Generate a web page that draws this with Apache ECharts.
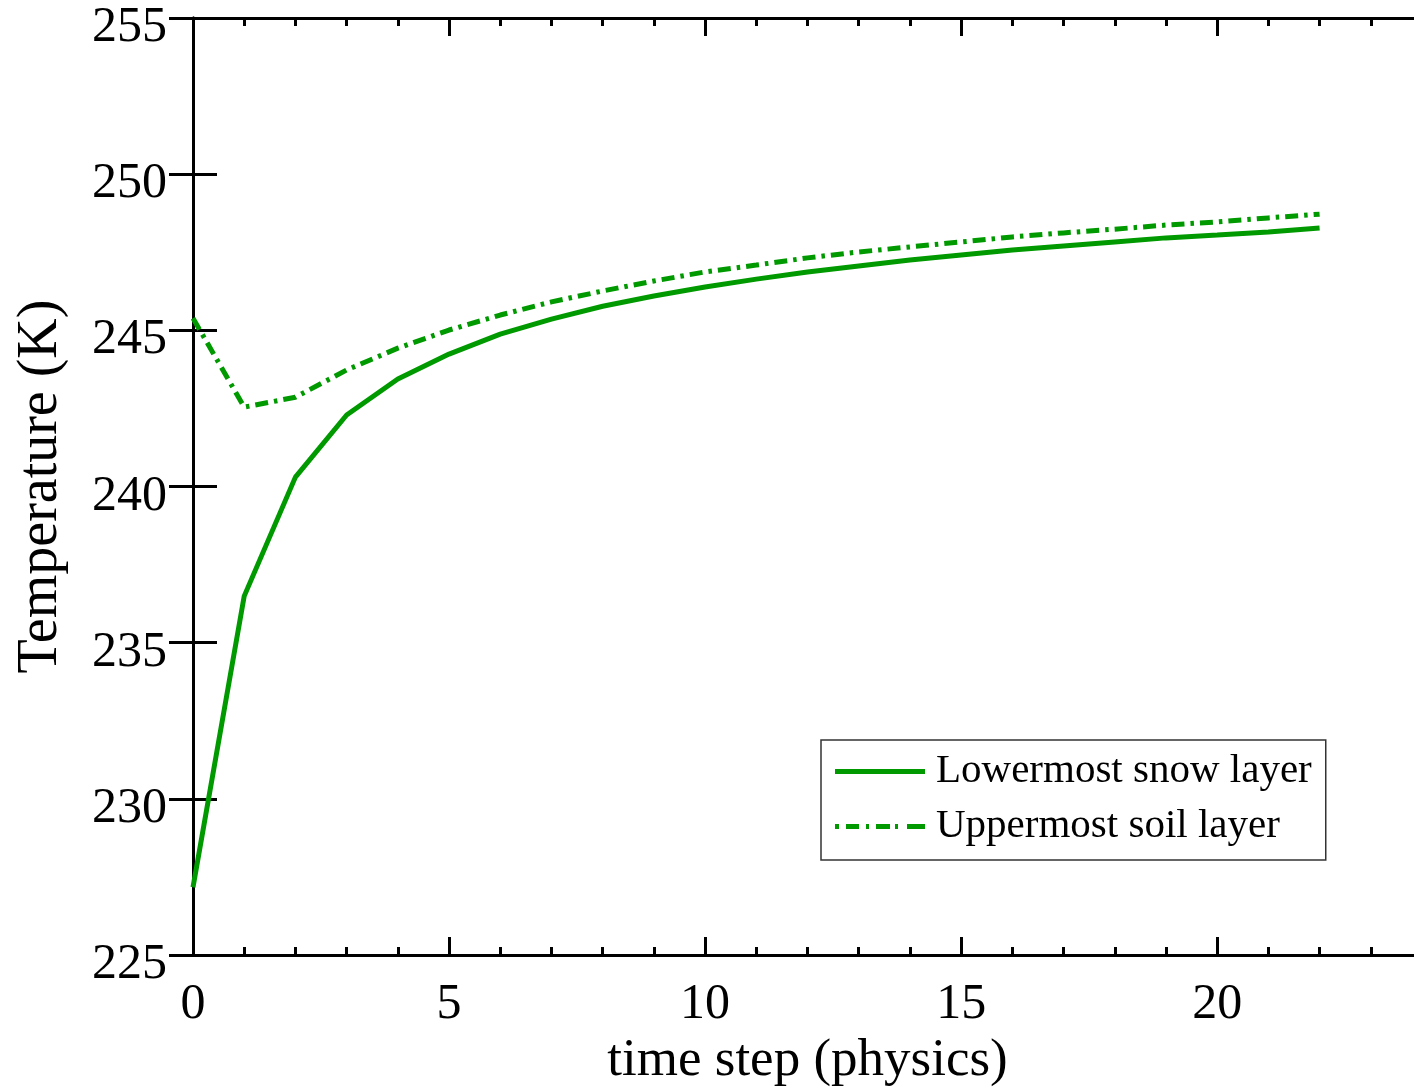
<!DOCTYPE html>
<html>
<head>
<meta charset="utf-8">
<script src="https://cdn.jsdelivr.net/npm/echarts@6/dist/echarts.min.js"></script>
<style>html,body{margin:0;padding:0;background:#fff}#c{width:1414px;height:1088px}</style>
</head>
<body>
<div id="c"></div>
<script>
const steps = [0,1,2,3,4,5,6,7,8,9,10,11,12,13,14,15,16,17,18,19,20,21,22];
const snowLower = [227.17,236.49,240.30,242.29,243.44,244.24,244.88,245.36,245.77,246.10,246.39,246.64,246.87,247.06,247.25,247.41,247.57,247.70,247.83,247.96,248.05,248.15,248.28];
const soilUpper = [245.39,242.54,242.86,243.73,244.43,245.01,245.49,245.91,246.26,246.58,246.87,247.09,247.32,247.51,247.67,247.83,247.99,248.12,248.24,248.37,248.47,248.60,248.72];
const seriesNames = ['Lowermost snow layer','Uppermost soil layer'];
const xName = 'time step (physics)';
const yName = 'Temperature (K)';

const FONT = '"Liberation Serif","Times New Roman",serif';
const GREEN = '#009a00';
const chart = echarts.init(document.getElementById('c'), null, {renderer:'canvas'});
const lineAx = {show:true, lineStyle:{color:'#000', width:3}};
const pair = a => steps.map((s,i)=>[s,a[i]]);
const solidIcon = 'path://M0,0H90V5H0Z';
const dashDotIcon = 'path://M0,0H4V5H0Z M11,0H24V5H11Z M31,0H34V5H31Z M41,0H55V5H41Z M60,0H63V5H60Z M72,0H90V5H72Z';
chart.setOption({
  animation:false,
  backgroundColor:'#fff',
  grid:{left:193, top:18, right:-8, bottom:133, outerBoundsMode:'none'},
  legend:{
    orient:'vertical', left:821, top:740,
    borderColor:'#333', borderWidth:1.5, padding:[11,14,13,14],
    itemWidth:90, itemHeight:5, itemGap:14,
    textStyle:{fontFamily:FONT, fontSize:41, color:'#000', padding:[0,0,0,6], lineHeight:41},
    data:[{name:seriesNames[0], icon:solidIcon},{name:seriesNames[1], icon:dashDotIcon}]
  },
  xAxis:[
    {type:'value', position:'bottom', min:0, max:24, interval:5,
     axisLine:lineAx, splitLine:{show:false},
     axisTick:{inside:true, length:18, lineStyle:{color:'#000', width:3}},
     axisLabel:{fontFamily:FONT, fontSize:50, color:'#000', margin:25,
       formatter:v=> (v%5===0 ? String(v) : '')},
     name:xName, nameLocation:'middle', nameGap:73,
     nameTextStyle:{fontFamily:FONT, fontSize:53, color:'#000'}},
    {type:'value', position:'bottom', min:0, max:24, interval:1,
     axisLine:{show:false}, splitLine:{show:false}, axisLabel:{show:false},
     axisTick:{inside:true, length:8, lineStyle:{color:'#000', width:3}}},
    {type:'value', position:'top', min:0, max:24, interval:5,
     axisLine:lineAx, splitLine:{show:false}, axisLabel:{show:false},
     axisTick:{inside:true, length:18, lineStyle:{color:'#000', width:3}}},
    {type:'value', position:'top', min:0, max:24, interval:1,
     axisLine:{show:false}, splitLine:{show:false}, axisLabel:{show:false},
     axisTick:{inside:true, length:8, lineStyle:{color:'#000', width:3}}}
  ],
  yAxis:[
    {type:'value', position:'left', min:225, max:255, interval:5,
     axisLine:lineAx, splitLine:{show:false},
     axisTick:{inside:true, length:24, lineStyle:{color:'#000', width:3}},
     axisLabel:{color:'#000', margin:26,
       formatter:v=>'{a|' + v + '}',
       rich:{a:{fontFamily:FONT, fontSize:50, color:'#000', padding:[20,0,0,0]}}},
     name:yName, nameLocation:'middle', nameGap:124, nameRotate:90,
     nameTextStyle:{fontFamily:FONT, fontSize:56, color:'#000'}},
    {type:'value', position:'right', min:225, max:255, interval:5,
     axisLine:lineAx, splitLine:{show:false}, axisLabel:{show:false},
     axisTick:{inside:true, length:24, lineStyle:{color:'#000', width:3}}}
  ],
  series:[
    {name:seriesNames[0], type:'line', data:pair(snowLower), showSymbol:false, symbol:'none',
     lineStyle:{color:GREEN, width:5}, itemStyle:{color:GREEN}},
    {name:seriesNames[1], type:'line', data:pair(soilUpper), showSymbol:false, symbol:'none',
     lineStyle:{color:GREEN, width:5, type:[13,6,3.5,6]}, itemStyle:{color:GREEN}}
  ]
});
</script>
</body>
</html>
